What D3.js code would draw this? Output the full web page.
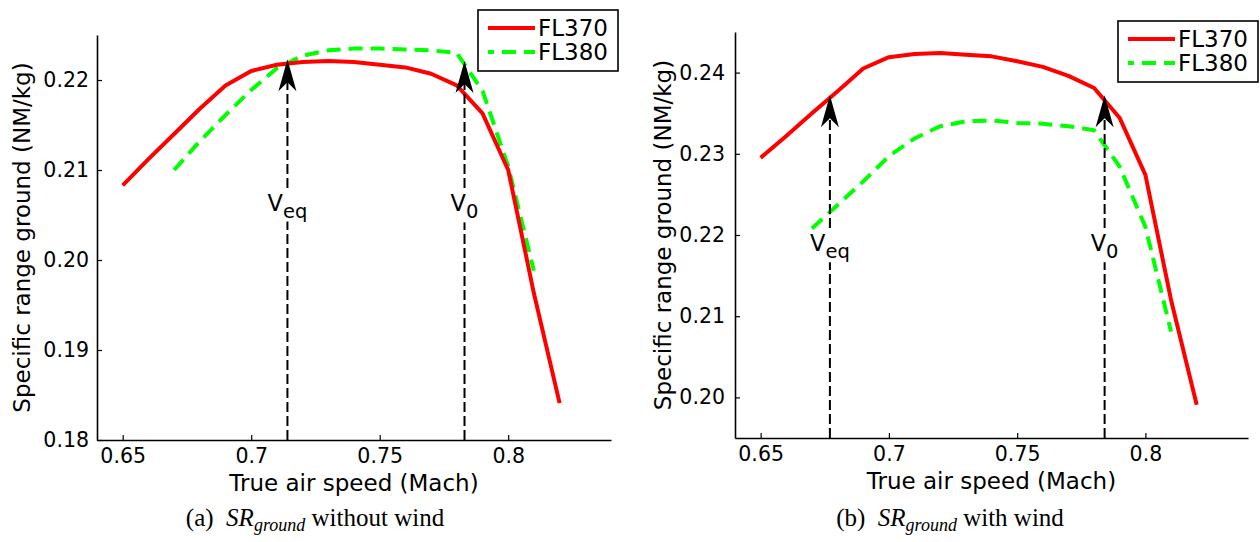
<!DOCTYPE html>
<html>
<head>
<meta charset="utf-8">
<script src="https://cdn.jsdelivr.net/npm/d3@7"></script>
<style>
  html, body { margin: 0; padding: 0; background: #fff; }
  svg { display: block; }
</style>
</head>
<body>
<svg id="chart" width="1260" height="542"></svg>
<script>
// ---------------- data ----------------
const machFL370 = [0.65, 0.66, 0.67, 0.68, 0.69, 0.70, 0.71, 0.72, 0.73, 0.74, 0.75, 0.76, 0.77, 0.78, 0.79, 0.80, 0.81, 0.82];
const machFL380 = [0.67, 0.68, 0.69, 0.70, 0.71, 0.72, 0.73, 0.74, 0.75, 0.76, 0.77, 0.78, 0.79, 0.80, 0.81];

// (a) without wind
const noWindFL370 = [0.2083, 0.2112, 0.2140, 0.2168, 0.2194, 0.2210, 0.2217, 0.2220, 0.2221, 0.2220, 0.2217, 0.2214, 0.2207, 0.2194, 0.2163, 0.2100, 0.1963, 0.1841];
const noWindFL380 = [0.2100, 0.2132, 0.2161, 0.2189, 0.2213, 0.2227, 0.2233, 0.2235, 0.2235, 0.2234, 0.2233, 0.2230, 0.2188, 0.2104, 0.1988];

// (b) with wind
const windFL370 = [0.2295, 0.2322, 0.2350, 0.2377, 0.2405, 0.2419, 0.2423, 0.2424, 0.2422, 0.2420, 0.2414, 0.2407, 0.2396, 0.2381, 0.2344, 0.2274, 0.2120, 0.1991];
const windFL380 = [0.2208, 0.2237, 0.2266, 0.2297, 0.2319, 0.2334, 0.2340, 0.2341, 0.2338, 0.2337, 0.2334, 0.2329, 0.2284, 0.2210, 0.2081];

const seriesNames = ["FL370", "FL380"];
const xTicks = [0.65, 0.70, 0.75, 0.80];
const xTickLabels = ["0.65", "0.7", "0.75", "0.8"];
const yTicksA = [0.18, 0.19, 0.20, 0.21, 0.22];
const yTicksB = [0.20, 0.21, 0.22, 0.23, 0.24];
const yTickLabelsA = ["0.18", "0.19", "0.20", "0.21", "0.22"];
const yTickLabelsB = ["0.20", "0.21", "0.22", "0.23", "0.24"];

// arrow annotations: [Mach, tip value, label value]
const arrowSubs = ["eq", "0"];
const arrowMachA = [0.7141, 0.7830];
const arrowTipA = [0.2223, 0.2221];
const arrowLabelA = [0.2055, 0.2054];
const arrowMachB = [0.6770, 0.7841];
const arrowTipB = [0.2372, 0.2372];
const arrowLabelB = [0.2180, 0.2180];

const xLabel = "True air speed (Mach)";
const yLabel = "Specific range ground (NM/kg)";
const captionTags = ["(a)", "(b)"];
const captionTail = [" without wind", " with wind"];

// ---------------- drawing ----------------
const svg = d3.select("#chart");
const FONT = "DejaVu Sans, sans-serif";
const RED = "#ff0000", GREEN = "#00ff00";

function panel(opts) {
  const g = svg.append("g");
  const x = d3.scaleLinear().domain([0.64, 0.84]).range([opts.x0, opts.x1]);
  const y = d3.scaleLinear().domain(opts.yDomain).range([opts.y1, opts.y0]);

  // axes
  const xa = d3.axisBottom(x).tickValues(xTicks)
    .tickFormat((d, i) => xTickLabels[i])
    .tickSizeInner(-5).tickSizeOuter(0).tickPadding(8);
  const ya = d3.axisLeft(y).tickValues(opts.yTicks)
    .tickFormat((d, i) => opts.yTickLabels[i])
    .tickSizeInner(-5).tickSizeOuter(0).tickPadding(opts.yPad);

  const gx = g.append("g").attr("transform", `translate(0,${opts.y1})`).call(xa);
  const gy = g.append("g").attr("transform", `translate(${opts.x0},0)`).call(ya);
  [gx, gy].forEach(a => {
    a.select(".domain").attr("stroke", "#000").attr("stroke-width", 1.6);
    a.selectAll(".tick line").attr("stroke", "#000").attr("stroke-width", 1.2);
    a.selectAll(".tick text").attr("fill", "#000")
      .attr("font-family", FONT).attr("font-size", 20.5);
  });

  // axis titles
  g.append("text").attr("x", (opts.x0 + opts.x1) / 2).attr("y", opts.y1 + 51)
    .attr("text-anchor", "middle").attr("font-family", FONT).attr("font-size", 23)
    .text(xLabel);
  g.append("text")
    .attr("transform", `translate(${opts.yLabelX},${(opts.y0 + opts.y1) / 2}) rotate(-90)`)
    .attr("text-anchor", "middle").attr("font-family", FONT).attr("font-size", 23)
    .text(yLabel);

  // curves
  const line = d3.line().x(d => x(d[0])).y(d => y(d[1]));
  g.append("path").datum(machFL380.map((m, i) => [m, opts.fl380[i]]))
    .attr("d", line).attr("fill", "none").attr("stroke", GREEN)
    .attr("stroke-width", 4).attr("stroke-dasharray", "14,8");
  g.append("path").datum(machFL370.map((m, i) => [m, opts.fl370[i]]))
    .attr("d", line).attr("fill", "none").attr("stroke", RED)
    .attr("stroke-width", 4).attr("stroke-linejoin", "round");

  // arrows
  opts.arrowMach.forEach((m, i) => {
    const ax = x(m), tip = y(opts.arrowTip[i]);
    g.append("line").attr("x1", ax).attr("x2", ax)
      .attr("y1", opts.y1).attr("y2", tip + 20)
      .attr("stroke", "#000").attr("stroke-width", 2).attr("stroke-dasharray", "10,4");
    g.append("path")
      .attr("d", `M${ax},${tip} L${ax + 9},${tip + 32} L${ax},${tip + 23} L${ax - 9},${tip + 32} Z`)
      .attr("fill", "#000");
    const ly = y(opts.arrowLabel[i]);
    const lg = g.append("g");
    const t = lg.append("text").attr("x", ax).attr("y", ly)
      .attr("text-anchor", "middle").attr("font-family", FONT).attr("font-size", 22.5);
    t.append("tspan").text("V");
    t.append("tspan").attr("font-size", 19.5).attr("dy", 7).text(arrowSubs[i]);
    const bb = t.node().getBBox();
    lg.insert("rect", "text").attr("x", bb.x - 1).attr("y", bb.y + 1)
      .attr("width", bb.width + 2).attr("height", bb.height - 2).attr("fill", "#fff");
  });

  // legend
  const lgx = opts.legX, lgy = opts.legY;
  const leg = g.append("g");
  leg.append("rect").attr("x", lgx).attr("y", lgy).attr("width", 140).attr("height", 61)
    .attr("fill", "#fff").attr("stroke", "#000").attr("stroke-width", 1.6);
  seriesNames.forEach((name, i) => {
    const yy = lgy + 18 + i * 24;
    leg.append("line").attr("x1", lgx + 10).attr("x2", lgx + 57).attr("y1", yy).attr("y2", yy)
      .attr("stroke", i === 0 ? RED : GREEN).attr("stroke-width", 4)
      .attr("stroke-dasharray", i === 0 ? null : "14,8").attr("stroke-dashoffset", i === 0 ? 0 : 8);
    leg.append("text").attr("x", lgx + 60).attr("y", yy).attr("dy", "0.36em")
      .attr("font-family", FONT).attr("font-size", 23).text(name);
  });

  // caption
  const cap = svg.append("text").attr("x", opts.capX).attr("y", 526)
    .attr("text-anchor", "middle").attr("font-family", "Liberation Serif, serif").attr("font-size", 25);
  cap.append("tspan").text(opts.tag + "\u2002");
  cap.append("tspan").attr("font-style", "italic").text("SR");
  cap.append("tspan").attr("font-style", "italic").attr("font-size", 18).attr("dy", 5).text("ground");
  cap.append("tspan").attr("dy", -5).text(opts.tail);
}

panel({
  x0: 97, x1: 611, y0: 35, y1: 440,
  yDomain: [0.18, 0.225], yTicks: yTicksA, yTickLabels: yTickLabelsA, yPad: 8,
  yLabelX: 30,
  fl370: noWindFL370, fl380: noWindFL380,
  arrowMach: arrowMachA, arrowTip: arrowTipA, arrowLabel: arrowLabelA,
  legX: 478, legY: 10, capX: 315, tag: captionTags[0], tail: captionTail[0]
});
panel({
  x0: 735, x1: 1248, y0: 32, y1: 438,
  yDomain: [0.195, 0.245], yTicks: yTicksB, yTickLabels: yTickLabelsB, yPad: 10,
  yLabelX: 671,
  fl370: windFL370, fl380: windFL380,
  arrowMach: arrowMachB, arrowTip: arrowTipB, arrowLabel: arrowLabelB,
  legX: 1118, legY: 21, capX: 950, tag: captionTags[1], tail: captionTail[1]
});
</script>
</body>
</html>
